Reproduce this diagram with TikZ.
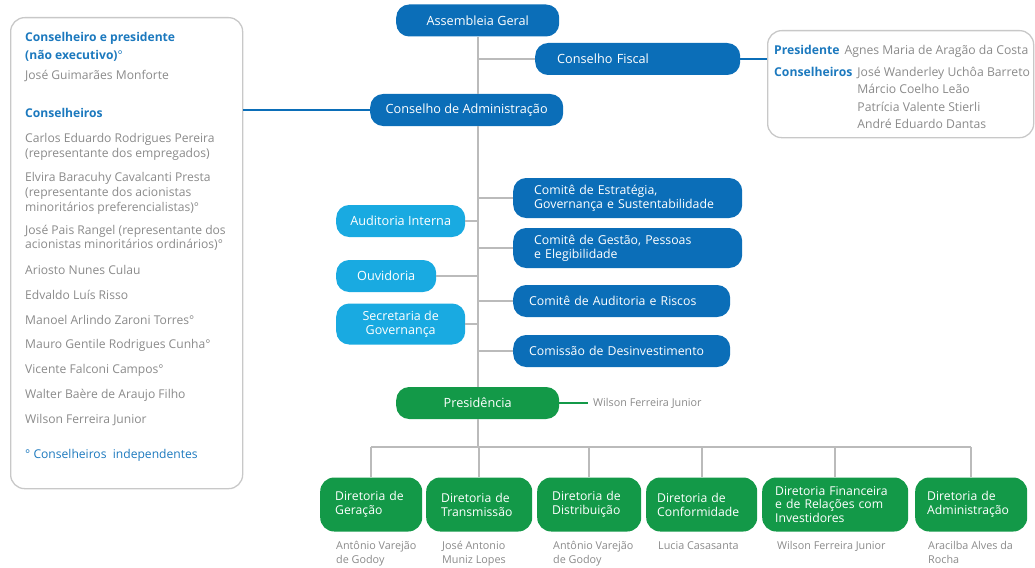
\documentclass[tikz,border=0pt]{standalone}
\usepackage{fontspec}
\setmainfont{Open Sans}
\usepackage{tikz}
\usetikzlibrary{positioning}

\definecolor{azulesc}{HTML}{0B6EB8}
\definecolor{azulcla}{HTML}{19AAE1}
\definecolor{verdeesc}{HTML}{139948}
\definecolor{cinzalin}{HTML}{BBBBBB}
\definecolor{cinzatxt}{HTML}{8A8A8A}
\definecolor{cinzamol}{HTML}{C8C8C8}
\definecolor{azultxt}{HTML}{1C79BE}

\newcommand{\destaque}[1]{\textcolor{azultxt}{\bfseries #1}}

\begin{document}
\begin{tikzpicture}[x=1pt,y=1pt,yscale=-1,
  caixa/.style={rounded corners=13pt, text=white, inner ysep=2pt, minimum height=32pt,
    font=\fontsize{12.7}{14}\selectfont},
  azul/.style={caixa, fill=azulesc},
  comite/.style={azul, font=\fontsize{12.3}{14}\selectfont, align=left},
  ciano/.style={caixa, fill=azulcla},
  verde/.style={caixa, fill=verdeesc},
  diretoria/.style={verde, rounded corners=14pt, minimum height=54pt, align=left,
    font=\fontsize{12.2}{14}\selectfont},
  linha/.style={draw=cinzalin, line width=1.6pt},
  linhaazul/.style={draw=azulesc, line width=1.6pt},
  linhaverde/.style={draw=verdeesc, line width=1.6pt},
  moldura/.style={draw=cinzamol, line width=1.3pt, rounded corners=14pt, anchor=north west},
  nome/.style={text=cinzatxt, font=\fontsize{10.8}{14}\selectfont, align=left,
    inner sep=0pt, anchor=north west}]

  \useasboundingbox (0,0) rectangle (1035,567);

  % Frames
  \node[moldura, minimum width=232pt, minimum height=471pt] (molduraConselho) at (10,17) {};
  \node[moldura, minimum width=266pt, minimum height=107pt] (molduraFiscal) at (767,30) {};

  % Top of the chart
  \node[azul, anchor=west, minimum width=163pt] (assembleia) at (396,20.5) {Assembleia Geral};
  \node[azul, anchor=west, minimum width=205pt, inner xsep=22pt, text width=161pt, align=left]
    (fiscal) at (535,59) {Conselho Fiscal};
  \node[azul, anchor=west, minimum width=193pt] (admin) at (370,110) {Conselho de Administração};

  % Committees
  \node[comite, anchor=west, minimum height=40pt, inner xsep=21pt, text width=187pt]
    (estrategia) at (513,198) {Comitê de Estratégia,\\Governança e Sustentabilidade};
  \node[comite, anchor=west, minimum height=40pt, inner xsep=21pt, text width=187pt]
    (gestao) at (513,248) {Comitê de Gestão, Pessoas\\e Elegibilidade};
  \node[comite, anchor=west, inner xsep=16pt, text width=185pt]
    (riscos) at (513,301) {Comitê de Auditoria e Riscos};
  \node[comite, anchor=west, inner xsep=16pt, text width=185pt]
    (desinvest) at (513,351) {Comissão de Desinvestimento};

  % Bodies on the left of the spine
  \node[ciano, anchor=west, minimum width=129pt] (auditoria) at (336,221) {Auditoria Interna};
  \node[ciano, anchor=west, minimum width=100pt] (ouvidoria) at (336,276) {Ouvidoria};
  \node[ciano, anchor=west, minimum width=129pt, minimum height=41pt, align=center,
    font=\fontsize{12.5}{14.5}\selectfont] (secretaria) at (336,324) {Secretaria de\\Governança};

  % Presidency
  \node[verde, anchor=west, minimum width=163pt] (presid) at (396,403) {Presidência};
  \node[nome, anchor=west, inner xsep=5pt] (presidnome) at (588,403) {Wilson Ferreira Junior};

  % Directorates
  \coordinate (barra) at (0,447);
  \node[diretoria, anchor=west, inner xsep=15pt, text width=72pt] (dirger) at (320,504.5)
    {Diretoria de\\Geração};
  \node[diretoria, anchor=west, inner xsep=15pt, text width=76pt] (dirtra) at (426,504.5)
    {Diretoria de\\Transmissão};
  \node[diretoria, anchor=west, inner xsep=15pt, text width=74pt] (dirdis) at (537,504.5)
    {Diretoria de\\Distribuição};
  \node[diretoria, anchor=west, inner xsep=11pt, text width=89pt] (dircon) at (646,504.5)
    {Diretoria de\\Conformidade};
  \node[diretoria, anchor=west, inner xsep=13pt, text width=120pt,
    font=\fontsize{12.2}{13.5}\selectfont] (dirfin) at (762,504.5)
    {Diretoria Financeira\\e de Relações com\\Investidores};
  \node[diretoria, anchor=west, inner xsep=12pt, text width=88pt] (diradm) at (915,504.5)
    {Diretoria de\\Administração};

  % Names below the directorates
  \node[nome] (nomeger) at (336,541) {Antônio Varejão\\de Godoy};
  \node[nome] (nometra) at (442,541) {José Antonio\\Muniz Lopes};
  \node[nome] (nomedis) at (553,541) {Antônio Varejão\\de Godoy};
  \node[nome] (nomecon) at (658,541) {Lucia Casasanta};
  \node[nome] (nomefin) at (777,541) {Wilson Ferreira Junior};
  \node[nome] (nomeadm) at (928,541) {Aracilba Alves da\\Rocha};

  % Connectors
  \draw[linha] (assembleia) -- (assembleia |- admin.north);
  \draw[linha] (assembleia |- admin.south) -- (presid);
  \draw[linha] (fiscal.west) -- (fiscal.west -| assembleia.south);
  \draw[linha] (estrategia.west) -- (estrategia.west -| assembleia.south);
  \draw[linha] (gestao.west) -- (gestao.west -| assembleia.south);
  \draw[linha] (riscos.west) -- (riscos.west -| assembleia.south);
  \draw[linha] (desinvest.west) -- (desinvest.west -| assembleia.south);
  \draw[linha] (auditoria.east) -- (auditoria.east -| assembleia.south);
  \draw[linha] (ouvidoria.east) -- (ouvidoria.east -| assembleia.south);
  \draw[linha] (secretaria.east) -- (secretaria.east -| assembleia.south);
  \draw[linha] (presid.south) -- (presid.south |- barra);
  \draw[linha] (dirger.north |- barra) -- (diradm.north |- barra);
  \draw[linha] (dirger.north) -- (dirger.north |- barra);
  \draw[linha] (dirtra.north) -- (dirtra.north |- barra);
  \draw[linha] (dirdis.north) -- (dirdis.north |- barra);
  \draw[linha] (dircon.north) -- (dircon.north |- barra);
  \draw[linha] (dirfin.north) -- (dirfin.north |- barra);
  \draw[linha] (diradm.north) -- (diradm.north |- barra);
  \draw[linhaverde] (presid) -- (presidnome);
  \draw[linhaazul] (molduraConselho.east |- admin.west) -- (admin.west);
  \draw[linhaazul] (fiscal.east) -- (fiscal.east -| molduraFiscal.west);

  % Text Node: board of directors
  \node[anchor=north west, align=left, inner sep=0pt, text=cinzatxt,
    font=\fontsize{12.1}{15}\selectfont] (listaConselho) at (25,32.5) {%
    \destaque{Conselheiro e presidente}\\[3pt]
    \destaque{(não executivo)}\textcolor{azultxt}{°}\\[5pt]
    José Guimarães Monforte\\[23pt]
    \destaque{Conselheiros}\\[10pt]
    Carlos Eduardo Rodrigues Pereira\\
    (representante dos empregados)\\[9pt]
    Elvira Baracuhy Cavalcanti Presta\\
    (representante dos acionistas\\
    minoritários preferencialistas)°\\[8pt]
    José Pais Rangel (representante dos\\[-1pt]
    acionistas minoritários ordinários)°\\[11pt]
    Ariosto Nunes Culau\\[10pt]
    Edvaldo Luís Risso\\[10pt]
    Manoel Arlindo Zaroni Torres°\\[9pt]
    Mauro Gentile Rodrigues Cunha°\\[10pt]
    Vicente Falconi Campos°\\[10pt]
    Walter Baère de Araujo Filho\\[10pt]
    Wilson Ferreira Junior\\[20pt]
    \textcolor{azultxt}{° Conselheiros\ \ independentes}};

  % Text Node: fiscal council
  \node[anchor=north west, inner sep=0pt, text=cinzatxt,
    font=\fontsize{12.2}{17.5}\selectfont] (listaFiscal) at (774,42) {%
    \begin{tabular}{@{}l@{\hspace{5pt}}l@{}}
      \multicolumn{2}{@{}l@{}}{\destaque{Presidente}\hspace{5pt}Agnes Maria de Aragão da Costa}\\[4.5pt]
      \destaque{Conselheiros} & José Wanderley Uchôa Barreto\\
      & Márcio Coelho Leão\\
      & Patrícia Valente Stierli\\
      & André Eduardo Dantas
    \end{tabular}};

\end{tikzpicture}
\end{document}
